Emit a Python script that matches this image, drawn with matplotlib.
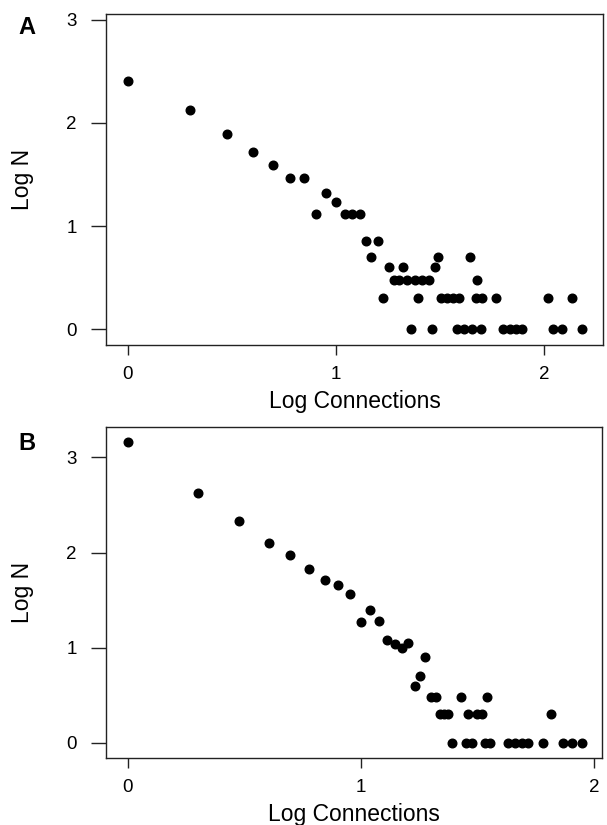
import matplotlib
matplotlib.use("Agg")
import matplotlib.pyplot as plt

plt.rcParams['font.family'] = ['Liberation Sans', 'DejaVu Sans']

# panel A: log connections vs log N
a_x = [0.0, 0.30, 0.477, 0.602, 0.699, 0.778, 0.845, 0.903, 0.954, 1.0,
       1.041, 1.079, 1.114,
       1.146, 1.204,
       1.167, 1.488, 1.642,
       1.256, 1.320, 1.475,
       1.279, 1.301, 1.342, 1.380, 1.415, 1.447, 1.675,
       1.227, 1.395, 1.504, 1.534, 1.563, 1.592, 1.671, 1.699, 1.767, 2.019, 2.131,
       1.360, 1.459, 1.580, 1.615, 1.655, 1.695, 1.803, 1.835, 1.865, 1.895,
       2.043, 2.087, 2.180]
a_y = [2.41, 2.13, 1.89, 1.72, 1.595, 1.47, 1.47, 1.12, 1.325, 1.23,
       1.12, 1.12, 1.12,
       0.85, 0.85,
       0.70, 0.70, 0.70,
       0.60, 0.60, 0.60,
       0.48, 0.48, 0.48, 0.48, 0.48, 0.48, 0.48,
       0.30, 0.30, 0.30, 0.30, 0.30, 0.30, 0.30, 0.30, 0.30, 0.30, 0.30,
       0, 0, 0, 0, 0, 0, 0, 0, 0, 0,
       0, 0, 0]

# panel B
b_x = [0.0, 0.299, 0.476, 0.604, 0.697, 0.777, 0.845, 0.903, 0.953, 0.999,
       1.039, 1.079, 1.110, 1.146, 1.175, 1.203, 1.275, 1.253, 1.232,
       1.300, 1.322, 1.429, 1.539,
       1.339, 1.356, 1.375, 1.458, 1.497, 1.518, 1.815,
       1.392, 1.451, 1.475, 1.532, 1.554, 1.632, 1.661, 1.690, 1.718,
       1.782, 1.868, 1.907, 1.947]
b_y = [3.16, 2.63, 2.33, 2.10, 1.97, 1.83, 1.71, 1.66, 1.56, 1.27,
       1.40, 1.28, 1.08, 1.04, 1.00, 1.05, 0.90, 0.70, 0.60,
       0.48, 0.48, 0.48, 0.48,
       0.30, 0.30, 0.30, 0.30, 0.30, 0.30, 0.30,
       0, 0, 0, 0, 0, 0, 0, 0, 0,
       0, 0, 0, 0]

x_ticks = [0, 1, 2]
y_ticks = [0, 1, 2, 3]

W, H = 607, 825
fig = plt.figure(figsize=(W / 100, H / 100), dpi=100)

def px_axes(left, top, right, bottom):
    return fig.add_axes([left / W, 1 - bottom / H, (right - left) / W, (bottom - top) / H])

axA = px_axes(106, 14, 603, 345)
axB = px_axes(106, 427, 602, 758)

panels = [
    (axA, a_x, a_y, (-0.104, 2.282), (-0.155, 3.058), 'A', 27),
    (axB, b_x, b_y, (-0.094, 2.034), (-0.158, 3.32), 'B', 443),
]

for ax, xs, ys, xl, yl, tag, ty in panels:
    ax.plot(xs, ys, 'o', color='black', ms=6.2, mec='black')
    ax.set_xlim(*xl)
    ax.set_ylim(*yl)
    ax.set_xticks(x_ticks)
    ax.set_yticks(y_ticks)
    ax.tick_params(axis='x', length=7, width=1, pad=8, labelsize=13.5, color='#222222')
    ax.tick_params(axis='y', length=11, width=1, pad=10, labelsize=13.5, color='#222222')
    for s in ax.spines.values():
        s.set_linewidth(1.0)
        s.set_color('#222222')
    ax.set_xlabel('Log Connections', fontsize=16.5)
    ax.xaxis.set_label_coords(0.5, -0.135)
    ax.set_ylabel('Log N', fontsize=16.5)
    ax.yaxis.set_label_coords(-0.145, 0.5)
    fig.text(27 / W, 1 - ty / H, tag, ha='center', va='center',
             fontsize=17, fontweight='bold')

fig.savefig('out.png', dpi=100)
